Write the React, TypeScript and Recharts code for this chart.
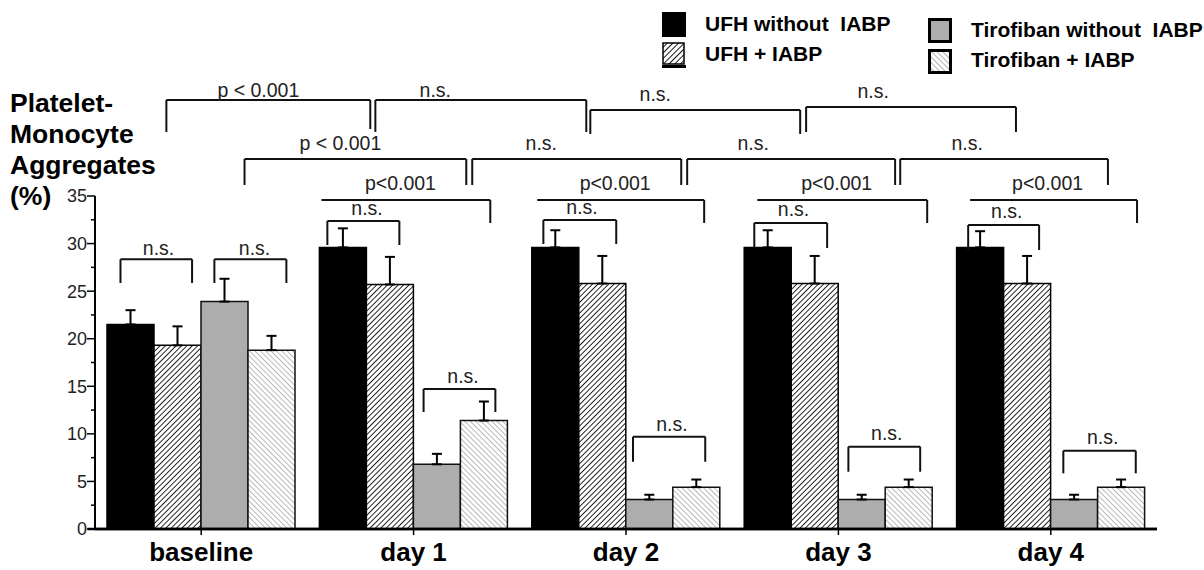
import React from 'react';
import { BarChart, Bar, XAxis, YAxis, ErrorBar, ReferenceLine, ReferenceDot } from 'recharts';

const FONT = 'Arial, "Liberation Sans", Helvetica, sans-serif';

// groups on the x axis
const days = ['baseline', 'day 1', 'day 2', 'day 3', 'day 4'];

// series names (legend)
const seriesNames = ['UFH without  IABP', 'UFH + IABP', 'Tirofiban without  IABP', 'Tirofiban + IABP'];

// mean values (%) and upper error (SEM)
const ufh = [21.5, 29.6, 29.6, 29.6, 29.6];
const ufhErr = [1.5, 2.0, 1.8, 1.8, 1.7];
const ufhIabp = [19.3, 25.7, 25.8, 25.8, 25.8];
const ufhIabpErr = [2.0, 2.9, 2.9, 2.9, 2.9];
const tiro = [23.9, 6.8, 3.1, 3.1, 3.1];
const tiroErr = [2.4, 1.1, 0.5, 0.5, 0.5];
const tiroIabp = [18.8, 11.4, 4.4, 4.4, 4.4];
const tiroIabpErr = [1.5, 2.0, 0.8, 0.8, 0.8];

const yTicks = [0, 2.5, 5, 7.5, 10, 12.5, 15, 17.5, 20, 22.5, 25, 27.5, 30, 32.5, 35];

// significance brackets, in axis units (x: group position 0..5, y: %)
// x1/x2 ends, y horizontal level, l1/l2 leg ends (null = no leg), tx/ty label centre
const brackets = [
  { x1: 0.336, x2: 1.296, y: 45.09, l1: 41.73, l2: 42.04, tx: 0.769, ty: 46.14, text: 'p < 0.001' },
  { x1: 1.32, x2: 2.313, y: 45.09, l1: 41.73, l2: 41.73, tx: 1.602, ty: 46.14, text: 'n.s.' },
  { x1: 2.332, x2: 3.32, y: 44.04, l1: 41.52, l2: 41.52, tx: 2.638, ty: 45.72, text: 'n.s.' },
  { x1: 3.348, x2: 4.336, y: 44.36, l1: 41.73, l2: 41.73, tx: 3.664, ty: 46.04, text: 'n.s.' },
  { x1: 0.704, x2: 1.748, y: 38.89, l1: 36.16, l2: 36.16, tx: 1.155, ty: 40.57, text: 'p < 0.001' },
  { x1: 1.776, x2: 2.76, y: 38.89, l1: 36.16, l2: 36.16, tx: 2.101, ty: 40.57, text: 'n.s.' },
  { x1: 2.788, x2: 3.767, y: 38.89, l1: 36.16, l2: 36.16, tx: 3.099, ty: 40.57, text: 'n.s.' },
  { x1: 3.791, x2: 4.769, y: 38.89, l1: 36.16, l2: 36.16, tx: 4.106, ty: 40.57, text: 'n.s.' },
  { x1: 1.066, x2: 1.861, y: 34.58, l1: null, l2: 32.16, tx: 1.438, ty: 36.37, text: 'p<0.001' },
  { x1: 2.082, x2: 2.868, y: 34.58, l1: null, l2: 32.16, tx: 2.449, ty: 36.37, text: 'p<0.001' },
  { x1: 3.118, x2: 3.918, y: 34.58, l1: null, l2: 32.16, tx: 3.492, ty: 36.37, text: 'p<0.001' },
  { x1: 4.12, x2: 4.906, y: 34.58, l1: null, l2: 32.16, tx: 4.485, ty: 36.37, text: 'p<0.001' },
  { x1: 1.094, x2: 1.433, y: 32.37, l1: 29.85, l2: 29.85, tx: 1.281, ty: 33.74, text: 'n.s.' },
  { x1: 2.111, x2: 2.454, y: 32.48, l1: 29.96, l2: 29.96, tx: 2.293, ty: 33.84, text: 'n.s.' },
  { x1: 3.104, x2: 3.447, y: 32.16, l1: 29.54, l2: 29.54, tx: 3.289, ty: 33.63, text: 'n.s.' },
  { x1: 4.111, x2: 4.445, y: 31.95, l1: 29.33, l2: 29.33, tx: 4.293, ty: 33.42, text: 'n.s.' },
  { x1: 0.12, x2: 0.457, y: 28.35, l1: 25.86, l2: 25.86, tx: 0.299, ty: 29.54, text: 'n.s.' },
  { x1: 0.562, x2: 0.901, y: 28.35, l1: 25.86, l2: 25.86, tx: 0.751, ty: 29.54, text: 'n.s.' },
  { x1: 1.547, x2: 1.885, y: 14.72, l1: 12.3, l2: 12.3, tx: 1.733, ty: 16.08, text: 'n.s.' },
  { x1: 2.533, x2: 2.873, y: 9.7, l1: 7.07, l2: 7.07, tx: 2.716, ty: 11.04, text: 'n.s.' },
  { x1: 3.547, x2: 3.885, y: 8.65, l1: 6.02, l2: 6.02, tx: 3.728, ty: 10.09, text: 'n.s.' },
  { x1: 4.559, x2: 4.9, y: 8.23, l1: 5.85, l2: 5.85, tx: 4.744, ty: 9.72, text: 'n.s.' },
];

const rows = days.map((day, i) => ({
  day,
  mid: i + 0.5,
  ufh: ufh[i],
  ufhErr: [0, ufhErr[i]],
  ufhIabp: ufhIabp[i],
  ufhIabpErr: [0, ufhIabpErr[i]],
  tiro: tiro[i],
  tiroErr: [0, tiroErr[i]],
  tiroIabp: tiroIabp[i],
  tiroIabpErr: [0, tiroIabpErr[i]],
}));

const YTick = (props: any) => {
  const { x, y, payload } = props;
  const major = payload.value % 5 === 0;
  return (
    <g>
      <line x1={x - (major ? 8 : 4)} y1={y} x2={x} y2={y} stroke="#000" strokeWidth={1.5} />
      {major && (
        <text x={x - 8} y={y} dy="0.36em" textAnchor="end" fontSize={18} fill="#222" fontFamily={FONT}>
          {payload.value}
        </text>
      )}
    </g>
  );
};

const XTick = (props: any) => {
  const { x, y, payload } = props;
  return (
    <text x={x} y={y} dy={24} textAnchor="middle" fontSize={26} fontWeight="bold" fill="#000" fontFamily={FONT}>
      {payload.value}
    </text>
  );
};

const YTitle = (props: any) => {
  const vb = props.viewBox || { x: 0, y: 196 };
  const lines = ['Platelet-', 'Monocyte', 'Aggregates', '(%)'];
  return (
    <g>
      {lines.map((t, i) => (
        <text key={t} x={vb.x + 10} y={vb.y - 84 + i * 31} fontSize={26.5} fontWeight="bold" fill="#000" fontFamily={FONT}>
          {t}
        </text>
      ))}
    </g>
  );
};

const Swatch = ({ kind }: { kind: number }) => {
  if (kind === 0) return <svg width={24} height={25}><rect x={0} y={0} width={24} height={25} fill="#000" /></svg>;
  if (kind === 1)
    return (
      <svg width={24} height={27}>
        <rect x={1} y={1} width={21} height={21} fill="url(#hatchDarkL)" stroke="#000" strokeWidth={1.5} />
        <rect x={0} y={23} width={24} height={3} fill="#000" />
      </svg>
    );
  if (kind === 2)
    return <svg width={24} height={25}><rect x={1.5} y={1.5} width={21} height={22} fill="#adadad" stroke="#000" strokeWidth={3} /></svg>;
  return <svg width={24} height={25}><rect x={1.5} y={1.5} width={21} height={22} fill="url(#hatchLightL)" stroke="#000" strokeWidth={3} /></svg>;
};

const legendPos = [
  { left: 662, top: 12, textTop: 12 },
  { left: 662, top: 42, textTop: 42 },
  { left: 928, top: 18, textTop: 18 },
  { left: 928, top: 49, textTop: 48 },
];

const LegendBox = () => (
  <div style={{ position: 'absolute', left: 0, top: 0, width: 1204, height: 90, fontFamily: FONT }}>
    <svg width={0} height={0} style={{ position: 'absolute' }}>
      <defs>
        <pattern id="hatchDarkL" patternUnits="userSpaceOnUse" width={4} height={4} patternTransform="rotate(45)">
          <rect width={4} height={4} fill="#fff" />
          <line x1={0} y1={0} x2={0} y2={4} stroke="#000" strokeWidth={1.8} />
        </pattern>
        <pattern id="hatchLightL" patternUnits="userSpaceOnUse" width={4} height={4} patternTransform="rotate(-45)">
          <rect width={4} height={4} fill="#fff" />
          <line x1={0} y1={0} x2={0} y2={4} stroke="#888" strokeWidth={1.3} />
        </pattern>
      </defs>
    </svg>
    {seriesNames.map((name, i) => (
      <React.Fragment key={name}>
        <div style={{ position: 'absolute', left: legendPos[i].left, top: legendPos[i].top, lineHeight: 0 }}>
          <Swatch kind={i} />
        </div>
        <div
          style={{
            position: 'absolute',
            left: legendPos[i].left + 43,
            top: legendPos[i].textTop,
            fontSize: 21,
            fontWeight: 'bold',
            whiteSpace: 'pre',
            lineHeight: '24px',
            color: '#000',
          }}
        >
          {name}
        </div>
      </React.Fragment>
    ))}
  </div>
);

export default function App() {
  const marks: React.ReactNode[] = [];
  brackets.forEach((b, i) => {
    marks.push(
      <ReferenceLine key={`h${i}`} xAxisId="pos" ifOverflow="visible" stroke="#111" strokeWidth={2}
        segment={[{ x: b.x1, y: b.y }, { x: b.x2, y: b.y }]} />
    );
    if (b.l1 !== null)
      marks.push(
        <ReferenceLine key={`l${i}`} xAxisId="pos" ifOverflow="visible" stroke="#111" strokeWidth={2}
          segment={[{ x: b.x1, y: b.y }, { x: b.x1, y: b.l1 }]} />
      );
    if (b.l2 !== null)
      marks.push(
        <ReferenceLine key={`r${i}`} xAxisId="pos" ifOverflow="visible" stroke="#111" strokeWidth={2}
          segment={[{ x: b.x2, y: b.y }, { x: b.x2, y: b.l2 }]} />
      );
    marks.push(
      <ReferenceDot key={`t${i}`} xAxisId="pos" x={b.tx} y={b.ty} r={0} ifOverflow="visible"
        shape={(p: any) => (
          <text x={p.cx} y={p.cy} dy="0.36em" textAnchor="middle" fontSize={19.5} fill="#222" fontFamily={FONT}>
            {b.text}
          </text>
        )} />
    );
  });

  return (
    <div style={{ position: 'absolute', left: 0, top: 0, width: 1204, height: 570, background: '#fff', fontFamily: FONT }}>
      <BarChart width={1204} height={570} data={rows} margin={{ top: 196, right: 47, bottom: 5, left: 0 }}
        barCategoryGap={12} barGap={0}>
        <defs>
          <pattern id="hatchDark" patternUnits="userSpaceOnUse" width={3.8} height={3.8} patternTransform="rotate(45)">
            <rect width={3.8} height={3.8} fill="#fff" />
            <line x1={0} y1={0} x2={0} y2={3.8} stroke="#000" strokeWidth={1.7} />
          </pattern>
          <pattern id="hatchLight" patternUnits="userSpaceOnUse" width={3.8} height={3.8} patternTransform="rotate(-45)">
            <rect width={3.8} height={3.8} fill="#fff" />
            <line x1={0} y1={0} x2={0} y2={3.8} stroke="#8a8a8a" strokeWidth={1.2} />
          </pattern>
        </defs>
        <XAxis xAxisId="cat" dataKey="day" interval={0} height={36} tick={<XTick />} tickSize={6} tickMargin={2}
          axisLine={{ stroke: '#000', strokeWidth: 2.5 }} tickLine={{ stroke: '#000', strokeWidth: 1.5 }} />
        <XAxis xAxisId="pos" dataKey="mid" type="number" domain={[0, 5]} scale="linear" hide allowDataOverflow />
        <YAxis domain={[0, 35]} ticks={yTicks} interval={0} width={95} allowDataOverflow
          tick={<YTick />} tickLine={false} tickSize={0} tickMargin={0}
          axisLine={{ stroke: '#000', strokeWidth: 2 }} label={<YTitle />} />
        <Bar xAxisId="cat" dataKey="ufh" fill="#000" stroke="#000" strokeWidth={1.5} isAnimationActive={false}>
          <ErrorBar dataKey="ufhErr" direction="y" width={5} stroke="#000" strokeWidth={2} isAnimationActive={false} />
        </Bar>
        <Bar xAxisId="cat" dataKey="ufhIabp" fill="url(#hatchDark)" stroke="#000" strokeWidth={1.5} isAnimationActive={false}>
          <ErrorBar dataKey="ufhIabpErr" direction="y" width={5} stroke="#000" strokeWidth={2} isAnimationActive={false} />
        </Bar>
        <Bar xAxisId="cat" dataKey="tiro" fill="#adadad" stroke="#111" strokeWidth={1.5} isAnimationActive={false}>
          <ErrorBar dataKey="tiroErr" direction="y" width={5} stroke="#000" strokeWidth={2} isAnimationActive={false} />
        </Bar>
        <Bar xAxisId="cat" dataKey="tiroIabp" fill="url(#hatchLight)" stroke="#111" strokeWidth={1.5} isAnimationActive={false}>
          <ErrorBar dataKey="tiroIabpErr" direction="y" width={5} stroke="#000" strokeWidth={2} isAnimationActive={false} />
        </Bar>
        <ReferenceLine xAxisId="pos" ifOverflow="visible" stroke="#000" strokeWidth={2.5}
          segment={[{ x: -0.035, y: 0 }, { x: 5, y: 0 }]} />
        {marks}
      </BarChart>
      <LegendBox />
    </div>
  );
}
